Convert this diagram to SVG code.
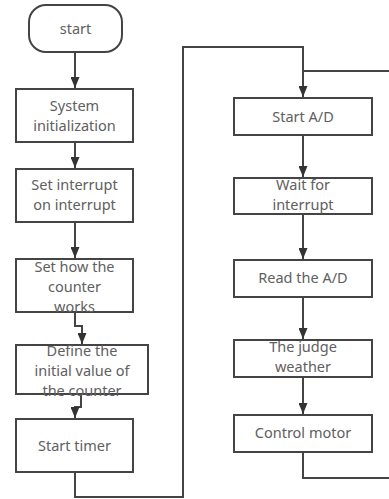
<svg xmlns="http://www.w3.org/2000/svg" width="389" height="499" viewBox="0 0 389 499">
<style>
.box{fill:#fff;stroke:#444;stroke-width:2}
.t{font-family:"Noto Sans","Open Sans",sans-serif;font-size:14.5px;fill:#606060;text-anchor:middle}
.c{fill:none;stroke:#444;stroke-width:2}
</style>
<defs>
<marker id="ar" viewBox="0 0 10 10" refX="10" refY="5" markerWidth="5.5" markerHeight="4.5" markerUnits="strokeWidth" orient="auto" preserveAspectRatio="none">
<path d="M0,0 L10,5 L0,10 z" fill="#333"/>
</marker>
</defs>
<rect width="389" height="499" fill="#fff"/>
<g id="connectors">
<path class="c" d="M75,52 V88" marker-end="url(#ar)"/>
<path class="c" d="M75,142 V168" marker-end="url(#ar)"/>
<path class="c" d="M75,222 V258" marker-end="url(#ar)"/>
<path class="c" d="M75,312 V326 H82 V344" marker-end="url(#ar)"/>
<path class="c" d="M81,394 V407 H75 V418" marker-end="url(#ar)"/>
<path class="c" d="M75,472 V497 H183 V47 H303 V97" marker-end="url(#ar)"/>
<path class="c" d="M389,71 H303"/>
<path class="c" d="M303,135 V177" marker-end="url(#ar)"/>
<path class="c" d="M303,214 V259" marker-end="url(#ar)"/>
<path class="c" d="M303,297 V339" marker-end="url(#ar)"/>
<path class="c" d="M303,377 V414" marker-end="url(#ar)"/>
<path class="c" d="M303,452 V478 H389"/>
</g>
<g id="start">
<rect class="box" x="29" y="5" width="93" height="47" rx="17"/>
<text class="t" x="75.5" y="34">start</text>
</g>
<g id="sysinit">
<rect class="box" x="16" y="89" width="117" height="53"/>
<text class="t" x="74.5" y="111">System</text>
<text class="t" x="74.5" y="131">initialization</text>
</g>
<g id="setint">
<rect class="box" x="16" y="169" width="117" height="53"/>
<text class="t" x="74.5" y="190">Set interrupt</text>
<text class="t" x="74.5" y="210">on interrupt</text>
</g>
<g id="sethow">
<rect class="box" x="16" y="259" width="117" height="53"/>
<text class="t" x="74.5" y="272">Set how the</text>
<text class="t" x="74.5" y="292">counter</text>
<text class="t" x="74.5" y="312">works</text>
</g>
<g id="define">
<rect class="box" x="16" y="345" width="132" height="49"/>
<text class="t" x="82" y="356">Define the</text>
<text class="t" x="82" y="376">initial value of</text>
<text class="t" x="82" y="396">the counter</text>
</g>
<g id="starttimer">
<rect class="box" x="16" y="419" width="117" height="53"/>
<text class="t" x="74.5" y="451">Start timer</text>
</g>
<g id="startad">
<rect class="box" x="234" y="98" width="138" height="37"/>
<text class="t" x="303" y="122">Start A/D</text>
</g>
<g id="wait">
<rect class="box" x="234" y="178" width="138" height="36"/>
<text class="t" x="303" y="190">Wait for</text>
<text class="t" x="303" y="210">interrupt</text>
</g>
<g id="read">
<rect class="box" x="234" y="260" width="138" height="37"/>
<text class="t" x="303" y="283">Read the A/D</text>
</g>
<g id="judge">
<rect class="box" x="234" y="340" width="138" height="37"/>
<text class="t" x="303" y="352">The judge</text>
<text class="t" x="303" y="372">weather</text>
</g>
<g id="control">
<rect class="box" x="234" y="415" width="138" height="37"/>
<text class="t" x="303" y="438">Control motor</text>
</g>
</svg>
